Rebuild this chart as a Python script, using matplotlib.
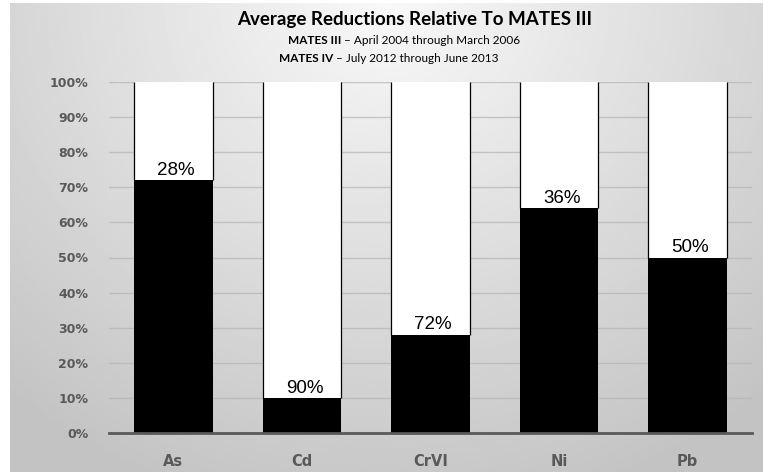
import numpy as np
import matplotlib.pyplot as plt

# Metals and the share of the MATES III level that remains in MATES IV
metals = ['As', 'Cd', 'CrVI', 'Ni', 'Pb']
reductions = [28, 90, 72, 36, 50]          # percent reduction
remaining = [100 - r for r in reductions]  # percent still present
yticks = list(range(0, 101, 10))

grey = '#595959'

fig = plt.figure(figsize=(7.63, 4.72), dpi=100)
fig.patch.set_facecolor('white')

# Soft radial shading behind the chart
bg = fig.add_axes([10 / 763, 0, 1 - 10 / 763, 1 - 3 / 472], zorder=0)
gx, gy = np.meshgrid(np.linspace(-1, 1, 400), np.linspace(-1, 1, 250))
dist = np.sqrt((gx / 1.1) ** 2 + ((gy - 1.0) / 1.6) ** 2)
shade = 0.975 - 0.21 * np.clip(dist, 0, 1.4) / 1.4
bg.imshow(shade, cmap='gray', vmin=0, vmax=1, aspect='auto', origin='lower',
          extent=[0, 1, 0, 1], interpolation='bilinear')
bg.axis('off')

ax = fig.add_axes([109 / 763, 1 - 433 / 472, 643 / 763, 351 / 472], zorder=1)
ax.patch.set_alpha(0)

x = np.arange(len(metals))
w = 0.61
ax.bar(x, remaining, width=w, color='black', zorder=3, clip_on=False)
ax.bar(x, reductions, width=w, bottom=remaining, color='white',
       zorder=3, clip_on=False)
# thin dark sides on the white segments
ax.vlines(np.concatenate([x - w / 2, x + w / 2]), remaining * 2,
          [100] * (2 * len(x)), color='black', lw=0.9, zorder=4)

for xi, rem, red in zip(x, remaining, reductions):
    ax.annotate(f'{red}%', (xi, rem), xytext=(2, 1), textcoords='offset points',
                ha='center', va='bottom', fontsize=13.5,
                family='Liberation Sans', color='black', zorder=5)

ax.set_xlim(-0.5, 4.5)
ax.set_ylim(0, 100)
ax.set_yticks(yticks)
ax.set_yticklabels([f'{t}%' for t in yticks], fontsize=9, fontweight='bold',
                   color=grey, family='DejaVu Sans')
ax.set_xticks(x)
ax.set_xticklabels(metals, fontsize=10.5, fontweight='bold', color=grey,
                   family='DejaVu Sans')
ax.yaxis.grid(True, color='#b4b4b4', lw=1, alpha=0.7, zorder=1)
ax.set_axisbelow(True)
for side in ['top', 'right', 'left']:
    ax.spines[side].set_visible(False)
ax.spines['bottom'].set_color(grey)
ax.spines['bottom'].set_linewidth(2)
ax.spines['bottom'].set_zorder(6)
ax.tick_params(length=0)
ax.tick_params(axis='y', pad=15)
ax.tick_params(axis='x', pad=15)

# Title block
fig.text(415 / 763, 1 - 20 / 472, 'Average Reductions Relative To MATES III',
         ha='center', va='center', fontsize=13.5, fontweight='bold',
         family='Lato', color='black')
subtitles = [('MATES III', ' \u2013 April 2004 through March 2006', 341, 41),
             ('MATES IV', ' \u2013 July 2012 through June 2013', 333, 58)]
for bold, rest, xs, ys in subtitles:
    fig.text(xs / 763, 1 - ys / 472, bold, ha='right', va='center',
             fontsize=8.5, fontweight='bold', family='Lato')
    fig.text(xs / 763, 1 - ys / 472, rest, ha='left', va='center',
             fontsize=8.5, family='Lato')

fig.savefig('out.png', dpi=100)
